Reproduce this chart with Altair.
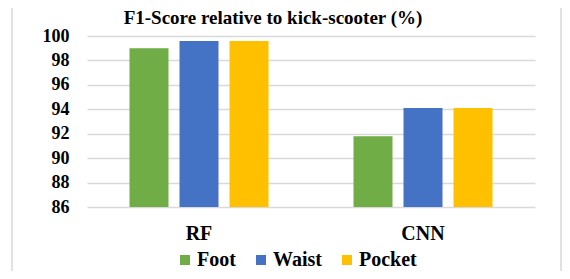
import altair as alt
import pandas as pd

models = ["RF", "CNN"]
placements = ["Foot", "Waist", "Pocket"]
foot = [99.0, 91.8]
waist = [99.6, 94.1]
pocket = [99.6, 94.1]
colors = ["#70AD47", "#4472C4", "#FFC000"]
y_ticks = [86, 88, 90, 92, 94, 96, 98, 100]
title_text = "F1-Score relative to kick-scooter (%)"

rows = []
for i, m in enumerate(models):
    for p, vals in zip(placements, [foot, waist, pocket]):
        rows.append({"model": m, "placement": p, "value": vals[i]})
df = pd.DataFrame(rows)

FONT = "Liberation Serif"

bars = alt.Chart(df).mark_bar().encode(
    x=alt.X("model:N", sort=models, title=None,
            scale=alt.Scale(paddingInner=0, paddingOuter=0),
            axis=alt.Axis(labelAngle=0, domain=False, ticks=False, labelPadding=16,
                          labelFontSize=20, labelFont=FONT)),
    xOffset=alt.XOffset("placement:N", sort=placements,
                        scale=alt.Scale(paddingInner=0.22, paddingOuter=0.85)),
    y=alt.Y("value:Q", title=None,
            scale=alt.Scale(domain=[86, 100], zero=False, clamp=True, nice=False),
            axis=alt.Axis(values=y_ticks, domain=False, ticks=False, labelPadding=18,
                          grid=True, gridColor="#d9d9d9", gridWidth=1.5,
                          labelFontSize=18, labelFont=FONT)),
    y2=alt.datum(86),
    color=alt.Color("placement:N", sort=placements,
                    scale=alt.Scale(domain=placements, range=colors),
                    legend=alt.Legend(title=None, orient="none", direction="horizontal",
                                      legendX=88, legendY=214, symbolType="square",
                                      symbolSize=100, symbolStrokeWidth=0,
                                      labelFontSize=20, columnPadding=15, labelOffset=2,
                                      labelFont=FONT)),
)

border = pd.DataFrame({"x": [0]})
left_line = alt.Chart(border).mark_rule(color="#d9d9d9", strokeWidth=1.5, clip=False).encode(
    x=alt.value(-75), y=alt.value(-32), y2=alt.value(250))
right_line = alt.Chart(border).mark_rule(color="#d9d9d9", strokeWidth=1.5, clip=False).encode(
    x=alt.value(474), y=alt.value(-32), y2=alt.value(250))

title = alt.Chart(pd.DataFrame({"t": [title_text]})).mark_text(
    fontSize=19, fontWeight="bold", color="black", clip=False,
    align="center", baseline="middle").encode(
    text="t:N", x=alt.value(186), y=alt.value(-18))

chart = alt.layer(bars, left_line, right_line, title).properties(
    width=448, height=171,
    autosize=alt.AutoSizeParams(type="none"),
    padding={"left": 79, "top": 28, "right": 27, "bottom": 64},
).configure(font=FONT).configure_view(stroke=None).configure_axis(
    labelFont=FONT, labelFontWeight="bold", labelColor="black"
).configure_legend(
    labelFont=FONT, labelFontWeight="bold", labelColor="black"
).configure_text(font=FONT)

chart.save("out.html", embed_options={"renderer": "svg", "actions": False})
